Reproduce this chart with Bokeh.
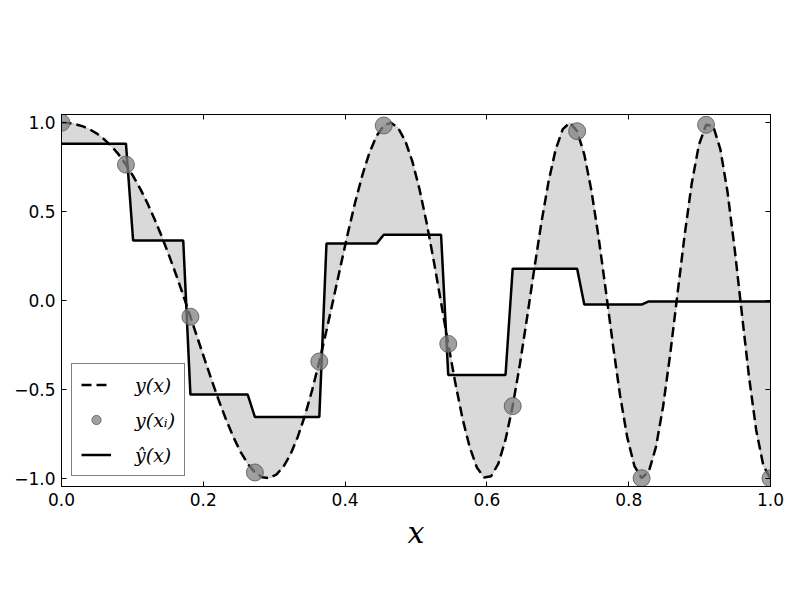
import numpy as np
from bokeh.plotting import figure
from bokeh.models import (FixedTicker, LinearAxis, Legend, LegendItem,
                          CustomJSTickFormatter, Range1d)
from bokeh.embed import file_html
from bokeh.resources import INLINE

# ---- data ----
x_grid = np.linspace(0.0, 1.0, 100)
y_true = [1.000, 0.998, 0.991, 0.979, 0.961, 0.937, 0.905, 0.867, 0.820, 0.764,
          0.700, 0.628, 0.547, 0.457, 0.360, 0.255, 0.145, 0.029, -0.091, -0.212,
          -0.333, -0.452, -0.566, -0.672, -0.768, -0.851, -0.918, -0.967, -0.994, -0.999,
          -0.979, -0.934, -0.863, -0.766, -0.646, -0.504, -0.343, -0.169, 0.014, 0.199,
          0.381, 0.551, 0.704, 0.831, 0.926, 0.984, 1.000, 0.971, 0.898, 0.781,
          0.624, 0.434, 0.218, -0.012, -0.244, -0.466, -0.665, -0.825, -0.939, -0.995,
          -0.988, -0.917, -0.783, -0.594, -0.361, -0.099, 0.174, 0.436, 0.667, 0.849,
          0.964, 1.000, 0.952, 0.821, 0.617, 0.354, 0.057, -0.250, -0.535, -0.770,
          -0.931, -0.999, -0.963, -0.825, -0.597, -0.300, 0.033, 0.365, 0.658, 0.875,
          0.988, 0.981, 0.850, 0.610, 0.289, -0.073, -0.429, -0.728, -0.929, -1.000]

x_samples = [0.0, 0.0909, 0.1818, 0.2727, 0.3636, 0.4545,
             0.5455, 0.6364, 0.7273, 0.8182, 0.9091, 1.0]
y_samples = [1.000, 0.764, -0.091, -0.967, -0.343, 0.984,
             -0.244, -0.594, 0.952, -0.999, 0.988, -1.000]

yhat_levels = [0.882, 0.337, -0.529, -0.655, 0.320, 0.370,
               -0.419, 0.179, -0.023, -0.005, -0.006]
yhat_counts = [10, 8, 9, 10, 8, 9, 9, 10, 9, 9, 9]

x_ticks = [0.0, 0.2, 0.4, 0.6, 0.8, 1.0]
y_ticks = [-1.0, -0.5, 0.0, 0.5, 1.0]

y_hat = np.repeat(yhat_levels, yhat_counts)

W, H = 784, 584
p = figure(width=W, height=H, output_backend="svg", toolbar_location=None,
           x_range=Range1d(0.0, 1.0), y_range=Range1d(-1.046, 1.046),
           min_border_left=61, min_border_right=14, min_border_top=114,
           min_border_bottom=98, x_axis_location=None, y_axis_location=None)
p.background_fill_color = "white"
p.border_fill_color = "white"
p.outline_line_color = "black"
p.outline_line_width = 1
p.grid.visible = False

fmt = CustomJSTickFormatter(code="return (tick < 0 ? '\u2212' : '') + Math.abs(tick).toFixed(1);")
blank = CustomJSTickFormatter(code="return '';")

def style(ax, labels=True):
    ax.axis_line_color = "black"
    ax.major_tick_in = 5
    ax.major_tick_out = 0
    ax.minor_tick_line_color = None
    ax.major_tick_line_color = "black"
    ax.major_label_text_font = "DejaVu Sans"
    ax.major_label_text_font_size = "17px"
    ax.major_label_text_color = "black"
    if not labels:
        ax.formatter = blank
        ax.major_label_standoff = 0

xb = LinearAxis(ticker=FixedTicker(ticks=x_ticks), formatter=fmt)
style(xb)
xb.major_label_standoff = 6
xb.axis_label = "x"
xb.axis_label_text_font = "DejaVu Serif"
xb.axis_label_text_font_style = "italic"
xb.axis_label_text_font_size = "30px"
xb.axis_label_text_color = "black"
xb.axis_label_standoff = 6
p.add_layout(xb, "below")

yl = LinearAxis(ticker=FixedTicker(ticks=y_ticks), formatter=fmt)
style(yl)
yl.major_label_standoff = 6
p.add_layout(yl, "left")

xt = LinearAxis(ticker=FixedTicker(ticks=x_ticks))
style(xt, labels=False)
p.add_layout(xt, "above")
yr = LinearAxis(ticker=FixedTicker(ticks=y_ticks))
style(yr, labels=False)
p.add_layout(yr, "right")

# fill between true curve and estimate
p.varea(x=x_grid, y1=y_true, y2=y_hat, fill_color="#d9d9d9", fill_alpha=1.0)
p.line(x=x_grid, y=y_true, line_color="#c4c4c4", line_width=1)

r_true = p.line(x=x_grid, y=y_true, line_color="black", line_width=2.5,
                line_dash="10 5")
r_hat = p.line(x=x_grid, y=y_hat, line_color="black", line_width=2.5)
r_pts = p.scatter(x=x_samples, y=y_samples, marker="circle", size=17,
                  fill_color="#808080", fill_alpha=0.75,
                  line_color="#555555", line_width=1, line_alpha=0.8)

legend = Legend(items=[
    LegendItem(label="y(x)", renderers=[r_true]),
    LegendItem(label="y(x\u1D62)", renderers=[r_pts]),
    LegendItem(label="\u0177(x)", renderers=[r_hat]),
], location="bottom_left")
legend.border_line_color = "black"
legend.border_line_width = 1
legend.background_fill_color = "white"
legend.background_fill_alpha = 1.0
legend.label_text_font = "DejaVu Serif"
legend.label_text_font_style = "italic"
legend.label_text_font_size = "19px"
legend.label_text_color = "black"
legend.glyph_width = 30
legend.glyph_height = 23
legend.spacing = 12
legend.padding = 9
legend.margin = 10
legend.label_standoff = 24
p.add_layout(legend, "center")

open("out.html", "w").write(file_html(p, INLINE))
